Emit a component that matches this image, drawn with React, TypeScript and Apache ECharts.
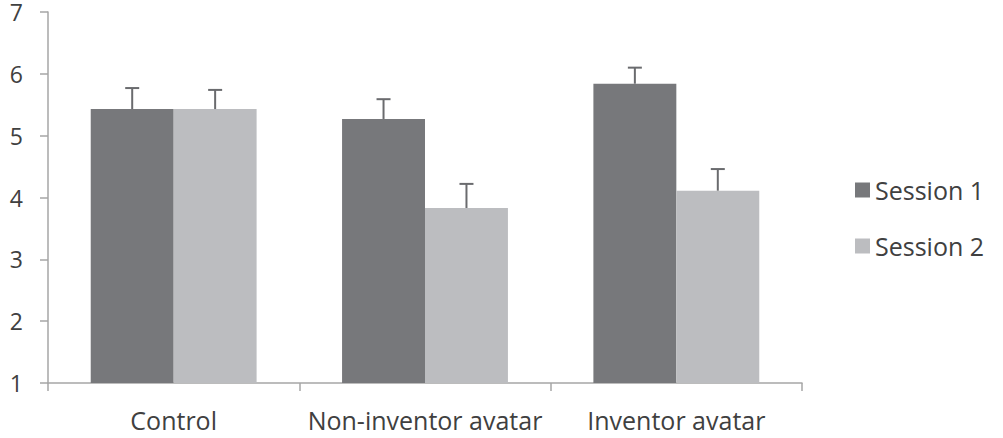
import React, { useEffect, useRef } from "react";
import * as echarts from "echarts";

const categories = ["Control", "Non-inventor avatar", "Inventor avatar"];
const session1 = [5.43, 5.27, 5.84];
const session2 = [5.43, 3.83, 4.11];
const session1Err = [5.77, 5.59, 6.1];
const session2Err = [5.74, 4.22, 4.46];
const yTicks = [1, 2, 3, 4, 5, 6, 7];

const CAT_GAP = 0.34;

export default function App() {
  const ref = useRef<HTMLDivElement>(null);
  useEffect(() => {
    if (!ref.current) return;
    const chart = echarts.init(ref.current, undefined, { renderer: "svg" });
    const errData: number[][] = [];
    session1.forEach((v, i) => errData.push([i, v, session1Err[i], 0]));
    session2.forEach((v, i) => errData.push([i, v, session2Err[i], 1]));
    const font = "'Open Sans', sans-serif";
    chart.setOption({
      animation: false,
      grid: { left: 48, right: 201, top: 12, bottom: 55, containLabel: false },
      legend: {
        orient: "vertical",
        left: 850,
        top: 168,
        itemWidth: 15,
        itemHeight: 15,
        itemGap: 22,
        icon: "rect",
        textStyle: { fontSize: 25, color: "#404040", fontFamily: font, padding: [0, 0, 0, 0], lineHeight: 34 },
        data: ["Session 1", "Session 2"],
      },
      xAxis: {
        type: "category",
        data: categories,
        axisLine: { lineStyle: { color: "#a6a6a6", width: 1.5 } },
        axisTick: { show: true, length: 8, lineStyle: { color: "#a6a6a6", width: 1.5 } },
        axisLabel: { interval: 0, fontSize: 25, color: "#404040", fontFamily: font, margin: 24 },
      },
      yAxis: {
        type: "value",
        min: 1,
        max: 7,
        interval: 1,
        splitLine: { show: false },
        axisLine: { show: true, lineStyle: { color: "#a6a6a6", width: 1.5 } },
        axisTick: { show: true, length: 8, lineStyle: { color: "#a6a6a6", width: 1.5 } },
        axisLabel: {
          fontSize: 23,
          lineHeight: 22,
          color: "#404040",
          fontFamily: font,
          margin: 25,
          formatter: (v: number) => (yTicks.includes(v) ? String(v) : ""),
        },
      },
      series: [
        {
          name: "Session 1",
          type: "bar",
          data: session1,
          barGap: "0%",
          barCategoryGap: CAT_GAP * 100 + "%",
          itemStyle: { color: "#77787b" },
        },
        {
          name: "Session 2",
          type: "bar",
          data: session2,
          barGap: "0%",
          barCategoryGap: CAT_GAP * 100 + "%",
          itemStyle: { color: "#bcbdc0" },
        },
        {
          type: "custom",
          name: "err",
          data: errData,
          z: 10,
          renderItem: (params: any, api: any) => {
            const cat = api.value(0);
            const base = api.coord([cat, api.value(1)]);
            const top = api.coord([cat, api.value(2)]);
            const catW = api.size([1, 0])[0];
            const barW = (catW * (1 - CAT_GAP)) / 2;
            const s = api.value(3);
            const x = base[0] + (s === 0 ? -barW / 2 : barW / 2);
            const style = { stroke: "#6a6b6e", lineWidth: 2 };
            return {
              type: "group",
              children: [
                { type: "line", shape: { x1: x, y1: base[1], x2: x, y2: top[1] }, style },
                { type: "line", shape: { x1: x - 7, y1: top[1], x2: x + 7, y2: top[1] }, style },
              ],
            };
          },
        },
      ],
    });
    return () => chart.dispose();
  }, []);
  return <div ref={ref} style={{ width: 1003, height: 438, position: "absolute", left: 0, top: 0 }} />;
}
